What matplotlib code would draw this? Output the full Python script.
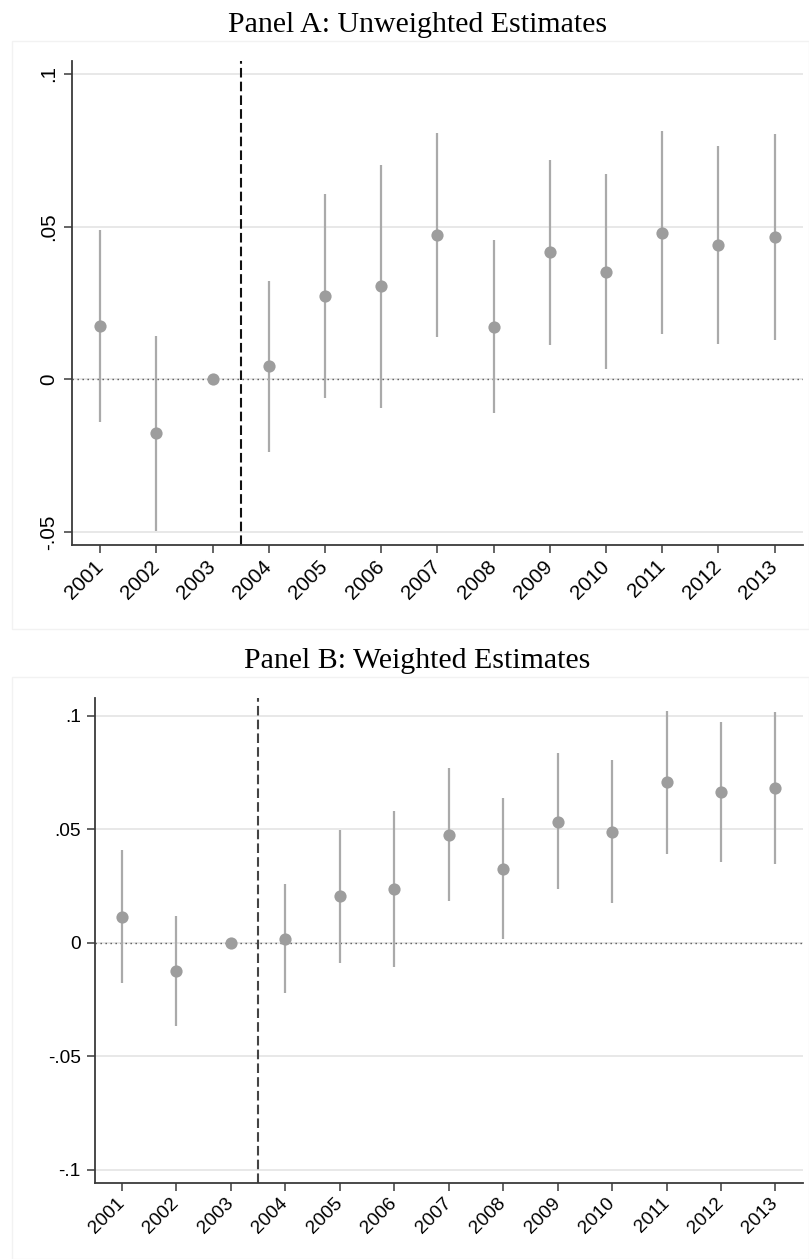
import matplotlib
matplotlib.use("Agg")
import matplotlib.pyplot as plt
from matplotlib.patches import Rectangle

years = list(range(2001, 2014))

# Panel A: unweighted estimates
coef_a = [0.0175, -0.0177, 0.0, 0.0043, 0.0274, 0.0305, 0.0472, 0.0172,
          0.0415, 0.0352, 0.0480, 0.0439, 0.0467]
lo_a = [-0.0141, -0.0496, 0.0, -0.0238, -0.0061, -0.0094, 0.0138, -0.0111,
        0.0111, 0.0034, 0.0148, 0.0115, 0.0129]
hi_a = [0.0489, 0.0142, 0.0, 0.0322, 0.0607, 0.0701, 0.0806, 0.0456,
        0.0717, 0.0672, 0.0813, 0.0763, 0.0804]
yticks_a = [-0.05, 0, 0.05, 0.1]
ylabels_a = ["-.05", "0", ".05", ".1"]

# Panel B: weighted estimates
coef_b = [0.0114, -0.0126, 0.0, 0.0015, 0.0204, 0.0235, 0.0475, 0.0326,
          0.0533, 0.0489, 0.0706, 0.0663, 0.0681]
lo_b = [-0.0176, -0.0368, 0.0, -0.0223, -0.0088, -0.0108, 0.0185, 0.0015,
        0.0236, 0.0173, 0.0392, 0.0355, 0.0346]
hi_b = [0.0407, 0.0118, 0.0, 0.0257, 0.0497, 0.0580, 0.0770, 0.0638,
        0.0834, 0.0806, 0.1020, 0.0973, 0.1014]
yticks_b = [-0.1, -0.05, 0, 0.05, 0.1]
ylabels_b = ["-.1", "-.05", "0", ".05", ".1"]

event_line = 2003.5

W, H = 809, 1259
fig = plt.figure(figsize=(W / 100, H / 100), dpi=100)
fig.patch.set_facecolor("white")

SANS = "Liberation Sans"
SERIF = "Liberation Serif"


def px_box(x0, y0, x1, y1):
    """Convert a pixel box (top-left origin) into figure fractions."""
    return [x0 / W, 1 - y1 / H, (x1 - x0) / W, (y1 - y0) / H]


def draw_panel(ax, coef, lo, hi, yticks, ylabels, ylim, vcolor, fsize, rotate_y):
    ax.set_xlim(2000.5, 2013.5)
    ax.set_ylim(*ylim)
    ax.set_yticks(yticks)
    ax.set_yticklabels(ylabels, fontsize=fsize, family=SANS)
    if rotate_y:
        for lab in ax.get_yticklabels():
            lab.set_rotation(90)
            lab.set_va("center")
    ax.set_xticks(years)
    ax.set_xticklabels([str(y) for y in years], fontsize=fsize, family=SANS,
                       rotation=45, ha="right", va="center",
                       rotation_mode="anchor")
    ax.set_axisbelow(True)
    ax.grid(axis="y", color="#e8e8e8", linewidth=1.4)
    ax.axhline(0, color="#555555", linewidth=1.0, linestyle=(0, (1, 2.6)),
               zorder=1)
    ax.axvline(event_line, color=vcolor, linewidth=1.5,
               linestyle=(0, (4.6, 2.0)), zorder=2)
    ax.vlines(years, lo, hi, color="#aaaaaa", linewidth=1.6, zorder=3)
    ax.plot(years, coef, "o", color="#9d9d9d", markersize=8.8,
            markeredgewidth=0, zorder=4)
    for side in ("top", "right"):
        ax.spines[side].set_visible(False)
    for side in ("left", "bottom"):
        ax.spines[side].set_color("#3a3a3a")
        ax.spines[side].set_linewidth(1.3)
    ax.tick_params(axis="both", length=6, width=1.1, color="#3a3a3a",
                   labelcolor="black")
    ax.tick_params(axis="x", pad=7)
    ax.tick_params(axis="y", pad=4)
    ax.set_facecolor("white")


# faint graph-region boxes
for box in [(12.3, 40.7, 808.5, 629.3), (12.3, 677.3, 808.5, 1258.5)]:
    fig.patches.append(Rectangle((box[0] / W, 1 - box[3] / H),
                                 (box[2] - box[0]) / W, (box[3] - box[1]) / H,
                                 transform=fig.transFigure, fill=False,
                                 edgecolor="#f2f2f2", linewidth=1.0))

ax_a = fig.add_axes(px_box(72, 61.3, 802.7, 545.3))
draw_panel(ax_a, coef_a, lo_a, hi_a, yticks_a, ylabels_a,
           (-0.0544, 0.1041), "#111111", 14.8, True)

ax_b = fig.add_axes(px_box(94.7, 698.3, 802.7, 1183))
draw_panel(ax_b, coef_b, lo_b, hi_b, yticks_b, ylabels_b,
           (-0.1058, 0.1076), "#444444", 13.8, False)

fig.text(417.5 / W, 1 - 31.7 / H, "Panel A: Unweighted Estimates",
         family=SERIF, fontsize=21.5, ha="center", va="baseline")
fig.text(417.5 / W, 1 - 667.7 / H, "Panel B: Weighted Estimates",
         family=SERIF, fontsize=21.5, ha="center", va="baseline")

fig.savefig("out.png", dpi=100)
